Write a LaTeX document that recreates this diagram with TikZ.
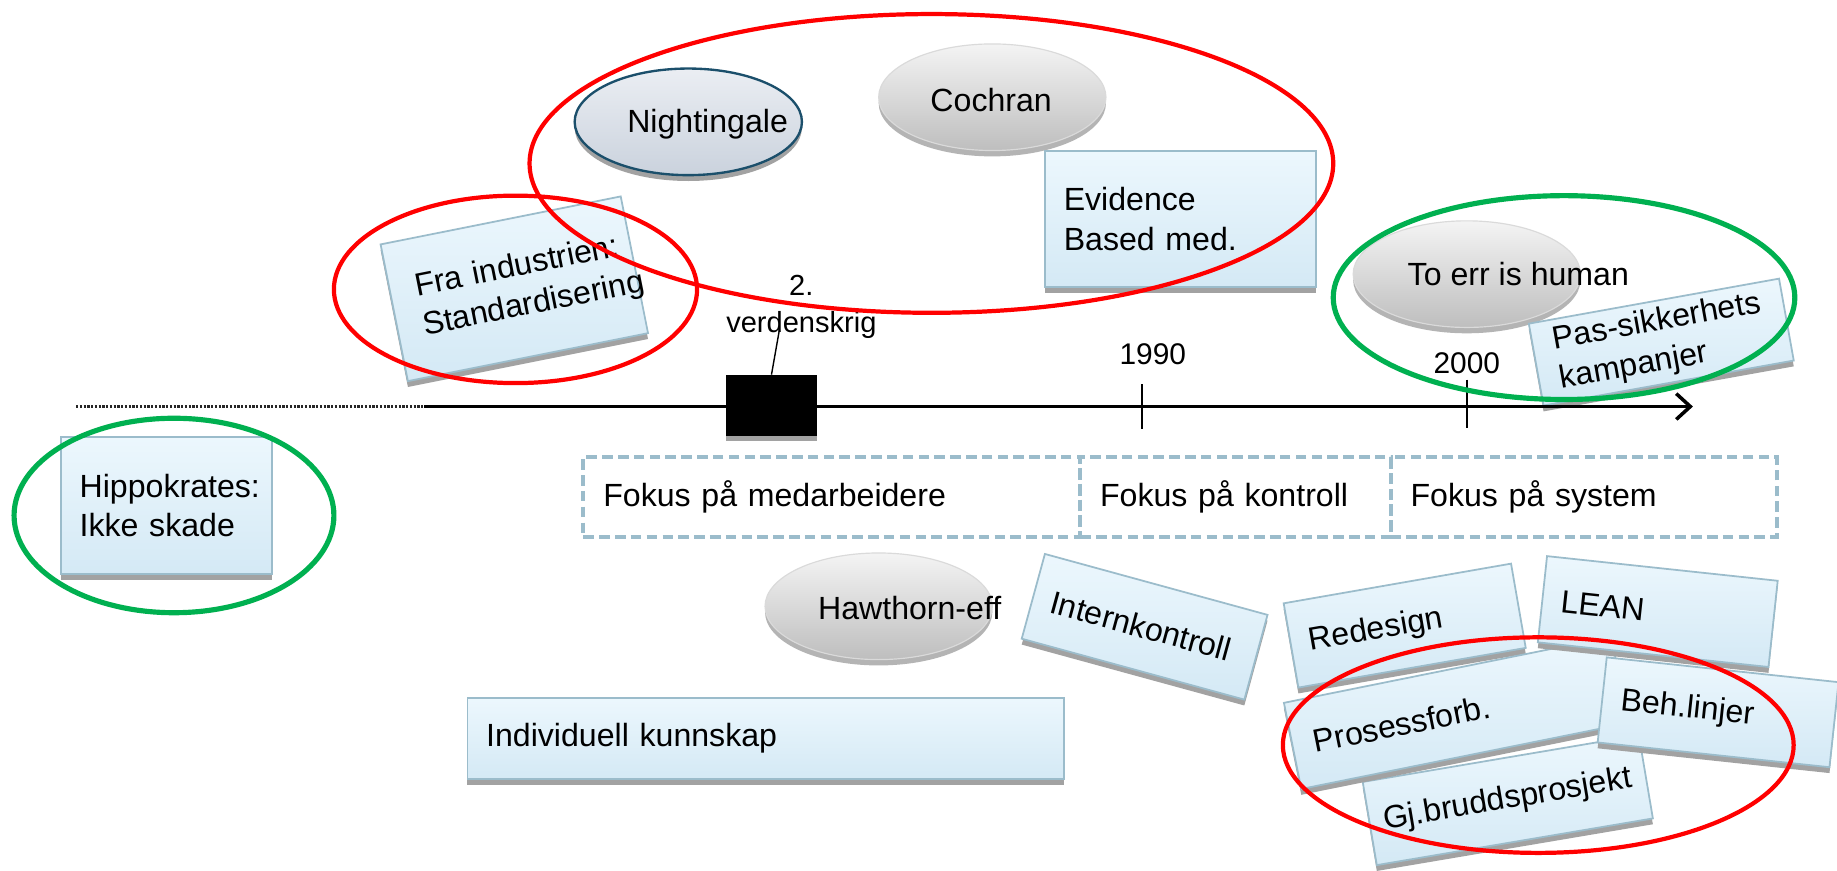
\documentclass[tikz,border=0pt]{standalone}
\usepackage{fontspec}
\setmainfont{Liberation Sans}
\usetikzlibrary{shapes.geometric,shadows,arrows.meta,calc}

% palette
\definecolor{cardtop}{HTML}{ECF7FD}
\definecolor{cardbot}{HTML}{D4E9F5}
\definecolor{cardedge}{HTML}{9BBCCB}
\definecolor{cardshadow}{HTML}{A2A2A2}
\definecolor{dashblue}{HTML}{9BBCCB}
\definecolor{ringred}{HTML}{FF0000}
\definecolor{ringgreen}{HTML}{00B050}
\definecolor{balltop}{HTML}{F4F4F4}
\definecolor{ballbot}{HTML}{BEBEBE}
\definecolor{balledge}{HTML}{DADADA}
\definecolor{ballshadow}{HTML}{B4B4B4}
\definecolor{nighttop}{HTML}{EBEEF3}
\definecolor{nightbot}{HTML}{CAD2DD}
\definecolor{nightedge}{HTML}{1B4F6B}

\newcommand\cardfont{\fontsize{27.4}{34}\selectfont}
\newcommand\tickfont{\fontsize{25.5}{31}\selectfont}

\tikzset{
  card/.style={rectangle, draw=cardedge, line width=1.5pt,
    top color=cardtop, bottom color=cardbot,
    drop shadow={shadow xshift=0pt, shadow yshift=-5pt, opacity=1, fill=cardshadow},
    inner ysep=0pt, align=left, font=\cardfont},
  focus/.style={rectangle, draw=dashblue, line width=3.5pt,
    dash pattern=on 9pt off 4.5pt, minimum height=68pt,
    inner xsep=17pt, inner ysep=0pt, align=left, font=\cardfont},
  ball/.style={ellipse, inner sep=0pt, minimum width=194pt, minimum height=91pt,
    draw=balledge, line width=1pt, top color=balltop, bottom color=ballbot,
    drop shadow={shadow xshift=0pt, shadow yshift=-5pt, opacity=1, fill=ballshadow}},
  nightball/.style={ellipse, inner sep=0pt, minimum width=194pt, minimum height=91pt,
    draw=nightedge, line width=2pt, top color=nighttop, bottom color=nightbot,
    drop shadow={shadow xshift=0pt, shadow yshift=-5pt, opacity=1, fill=cardshadow}},
  label/.style={inner sep=0pt, font=\cardfont},
  ticklabel/.style={inner sep=0pt, font=\tickfont},
  ring/.style={ellipse, inner sep=0pt, line width=3.6pt},
}

\begin{document}
\begin{tikzpicture}[x=1pt,y=-1pt]
\fill[white] (0,0) rectangle (1568,743);
\useasboundingbox (0,0) rectangle (1568,743);

% people and reports shown as ovals
\node[nightball] (night) at (587.5,104) {};
\node[label] (nightT) at (604,106) {Nightingale};
\node[ball] (coch) at (847,83) {};
\node[label] (cochT) at (846,85) {Cochran};
\node[ball] (err) at (1252,234) {};
\node[label] (errT) at (1296,234) {To err is human};
\node[ball] (haw) at (750,517.5) {};
\node[label] (hawT) at (776.5,519) {Hawthorn-eff};

% upright cards
\node[card, minimum width=180pt, minimum height=117pt, inner xsep=16pt, text width=148pt]
  (hippo) at (142,431.5) {Hippokrates:\\Ikke skade};
\node[card, minimum width=231pt, minimum height=116pt, inner xsep=16pt, text width=199pt]
  (ebm) at (1007.5,187) {Evidence\\Based med.};
\node[card, minimum width=509pt, minimum height=69pt, inner xsep=16pt, text width=477pt]
  (indiv) at (653.5,630.5) {Individuell kunnskap};

% tilted cards
\node[card, rotate=11.3, minimum width=209pt, minimum height=119pt, inner xsep=22pt, text width=165pt]
  (fra) at (439,246.5) {\mbox{Fra industrien:}\\Standardisering};
\node[card, rotate=10.2, minimum width=217pt, minimum height=71pt, inner xsep=18pt, text width=181pt]
  (pas) at (1418,292) {\mbox{Pas-sikkerhets}\\kampanjer};
\node[card, rotate=-15.3, minimum width=197pt, minimum height=75pt, inner xsep=16pt, text width=165pt]
  (intk) at (977,535) {Internkontroll};
\node[card, rotate=9.9, minimum width=197pt, minimum height=73pt, inner xsep=16pt, text width=165pt]
  (redes) at (1199,534) {Redesign};
\node[card, rotate=9.6, minimum width=239pt, minimum height=72pt, inner xsep=12pt, text width=215pt]
  (gj) at (1287,683) {\mbox{Gj.bruddsprosjekt}};
\node[card, rotate=11.4, minimum width=285pt, minimum height=75pt, inner xsep=18pt, text width=249pt]
  (pros) at (1243,608.5) {Prosessforb.};
\node[card, rotate=-6.1, minimum width=198pt, minimum height=74pt, inner xsep=16pt, text width=166pt]
  (lean) at (1415,522) {LEAN};
\node[card, rotate=-6.1, minimum width=199pt, minimum height=73pt, inner xsep=16pt, text width=167pt]
  (beh) at (1466.5,608) {Beh.linjer};

% eras below the time axis
\node[focus, minimum width=424pt, text width=390pt] (fmed) at (710,424) {Fokus på medarbeidere};
\node[focus, minimum width=265pt, text width=231pt] (fkon) at (1054.5,424) {Fokus på kontroll};
\node[focus, minimum width=330pt, text width=296pt] (fsys) at (1352,424) {Fokus på system};

% time axis
\coordinate (tl0) at (65,347);
\coordinate (tl1) at (362,347);
\coordinate (tl2) at (1445,347);
\draw[line width=2pt, black!85, dash pattern=on 2pt off 1.2pt] (tl0) -- (tl1);
\draw[line width=3pt, -{Straight Barb[length=12pt,width=22pt,line width=3pt]}] (tl1) -- (tl2);

% 1990 and 2000 ticks
\coordinate (t90a) at (975,328);
\coordinate (t90b) at (975,366);
\coordinate (t00a) at (1252,324);
\coordinate (t00b) at (1252,365);
\draw[line width=1.4pt] (t90a) -- (t90b);
\draw[line width=1.4pt] (t00a) -- (t00b);
\node[ticklabel] (y1990) at (984,302) {1990};
\node[ticklabel] (y2000) at (1252,310) {2000};

% second world war marker
\node[rectangle, fill=black, inner sep=0pt, minimum width=77pt, minimum height=52pt,
  drop shadow={shadow xshift=0pt, shadow yshift=-4pt, opacity=1, fill=cardshadow}]
  (ww2) at (658.5,346) {};
\node[ticklabel, align=center, font=\fontsize{24.8}{31}\selectfont] (ww2T) at (684,262) {2.\\verdenskrig};
\coordinate (ww2end) at (665,283);
\draw[line width=1.2pt] (ww2end) -- (ww2.north);

% highlight rings
\node[ring, draw=ringred, minimum width=686pt, minimum height=255pt] (rbig) at (795,139.5) {};
\node[ring, draw=ringred, minimum width=310pt, minimum height=160pt] (rfra) at (440,247) {};
\node[ring, draw=ringred, minimum width=436pt, minimum height=184pt] (rsys) at (1313,636) {};
\node[ring, draw=ringgreen, line width=4.4pt, minimum width=273pt, minimum height=166pt] (ghip) at (148.5,440) {};
\node[ring, draw=ringgreen, line width=4.4pt, minimum width=394pt, minimum height=174pt] (gerr) at (1335,254) {};
\end{tikzpicture}
\end{document}
